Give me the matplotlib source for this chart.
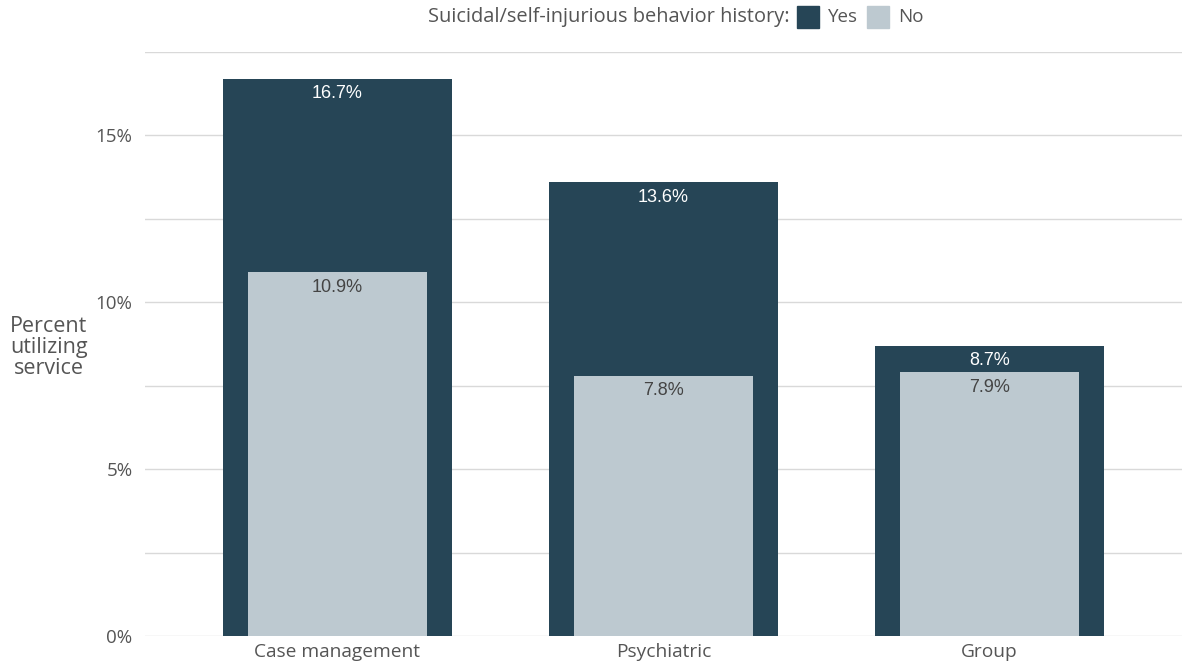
import matplotlib
matplotlib.use("Agg")
import matplotlib.pyplot as plt
from matplotlib.ticker import FuncFormatter
from matplotlib.patches import Rectangle

categories = ["Case management", "Psychiatric", "Group"]
yes_values = [16.7, 13.6, 8.7]
no_values = [10.9, 7.8, 7.9]
yticks = [0, 5, 10, 15]

DARK = "#264556"
LIGHT = "#bdc9d0"
TXT = "#555555"
FONT = "Open Sans"

fig = plt.figure(figsize=(11.82, 6.66), dpi=100)
ax = fig.add_axes([145/1182, 30/666, (1182-145)/1182, (636-52)/666])

x = list(range(len(categories)))
ax.bar(x, yes_values, width=0.70, color=DARK, zorder=2)
ax.bar(x, no_values, width=0.55, color=LIGHT, zorder=3)

for xi, v in zip(x, yes_values):
    ax.text(xi, v - 0.2, f"{v}%", ha="center", va="top", color="white",
            fontsize=13, family="Liberation Sans", zorder=4)
for xi, v in zip(x, no_values):
    ax.text(xi, v - 0.2, f"{v}%", ha="center", va="top", color="#444444",
            fontsize=13, family="Liberation Sans", zorder=4)

ax.set_xlim(-0.59, 2.59)
ax.set_ylim(0, 17.5)
ax.set_yticks([0, 2.5, 5, 7.5, 10, 12.5, 15, 17.5])
ax.yaxis.set_major_formatter(FuncFormatter(lambda v, p: f"{int(v)}%" if v in yticks else ""))
ax.grid(axis="y", color="#d9d9d9", linewidth=1, zorder=0)
ax.set_axisbelow(True)
for s in ax.spines.values():
    s.set_visible(False)
ax.tick_params(axis="y", length=0, labelsize=13.5, labelcolor=TXT, pad=9)
ax.tick_params(axis="x", length=0, labelsize=13.8, labelcolor=TXT, pad=5)
ax.set_xticks(x)
ax.set_xticklabels(categories, family=FONT)
for lab in ax.get_yticklabels():
    lab.set_family(FONT)

fig.text(49/1182, 1 - 347/666, "Percent\nutilizing\nservice", ha="center", va="center",
         fontsize=15.5, color=TXT, family=FONT, linespacing=1.0)

# legend
ly = 1 - 17/666
fig.text(790/1182, ly, "Suicidal/self-injurious behavior history:", ha="right", va="center",
         fontsize=14.4, color=TXT, family=FONT)
fig.patches.append(Rectangle((797/1182, 1 - 28/666), 22/1182, 22/666, color=DARK,
                             transform=fig.transFigure, figure=fig))
fig.text(828/1182, ly, "Yes", ha="left", va="center", fontsize=13.5, color=TXT, family=FONT)
fig.patches.append(Rectangle((867/1182, 1 - 28/666), 22/1182, 22/666, color=LIGHT,
                             transform=fig.transFigure, figure=fig))
fig.text(898/1182, ly, "No", ha="left", va="center", fontsize=13.5, color=TXT, family=FONT)

fig.savefig("out.png", dpi=100)
